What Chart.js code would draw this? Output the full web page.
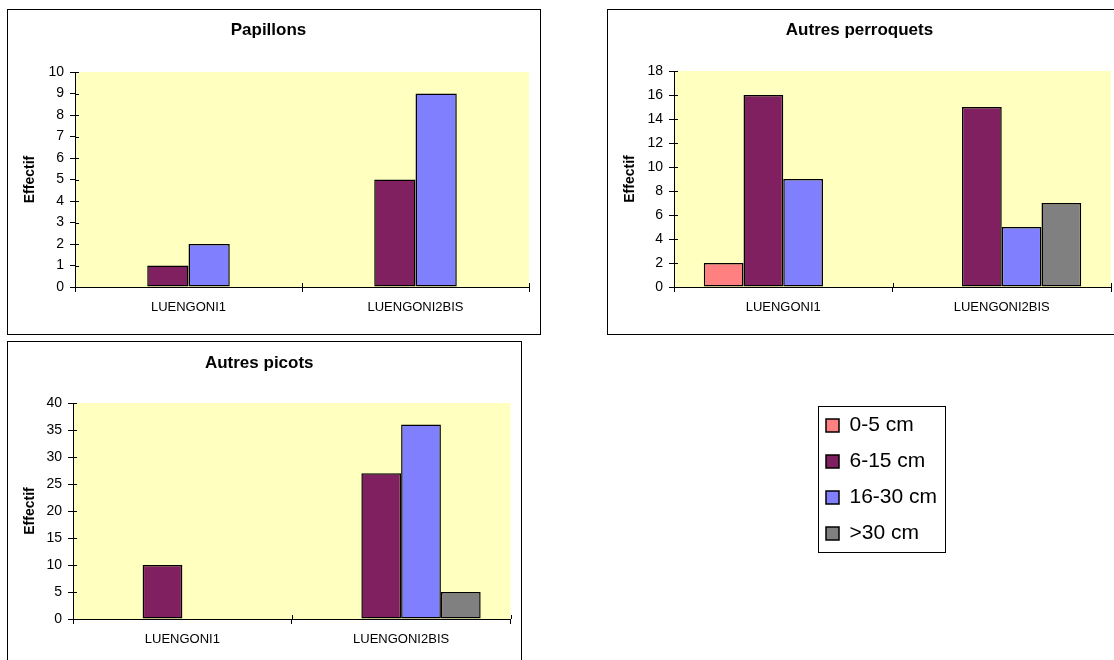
<!DOCTYPE html>
<html>
<head>
<meta charset="utf-8">
<script src="https://cdn.jsdelivr.net/npm/chart.js@4.4.1/dist/chart.umd.min.js"></script>
<style>
  body { margin: 0; background: #fff; width: 1114px; height: 660px; overflow: hidden; position: relative; }
  .box { position: absolute; border: 1px solid #000; box-sizing: border-box; background: #fff; }
  .box canvas { position: absolute; left: 0; top: 0; }
  #legendCanvas { position: absolute; }
</style>
</head>
<body>
<div class="box" style="left:7px;top:9px;width:534px;height:326px;">
  <canvas id="papillons" width="532" height="324"></canvas>
</div>
<div class="box" style="left:607px;top:9px;width:520px;height:326px;">
  <canvas id="perroquets" width="518" height="324"></canvas>
</div>
<div class="box" style="left:7px;top:341px;width:515px;height:330px;">
  <canvas id="picots" width="513" height="328"></canvas>
</div>
<div class="box" style="left:818px;top:406px;width:128px;height:147px;"></div>
<canvas id="legendCanvas" width="360" height="200" style="left:811px;top:400px;"></canvas>

<script>
// stations and size classes
const categories = ["LUENGONI1", "LUENGONI2BIS"];
const sizeClasses = ["0-5 cm", "6-15 cm", "16-30 cm", ">30 cm"];

// one row per size class, one value per station
const papillons = [
  [0, 0],
  [1, 5],
  [2, 9],
  [0, 0],
];
const perroquets = [
  [2, 0],
  [16, 15],
  [9, 5],
  [0, 7],
];
const picots = [
  [0, 0],
  [10, 27],
  [0, 36],
  [0, 5],
];

// y axis: [min, max, step]
const papillonsAxis = [0, 10, 1];
const perroquetsAxis = [0, 18, 2];
const picotsAxis = [0, 40, 5];

const colors = ["#FF8080", "#802060", "#8080FF", "#808080"];

Chart.defaults.font.family = 'Arial, "Liberation Sans", Helvetica, sans-serif';
Chart.defaults.color = "#000";
Chart.defaults.animation = false;

const plotBg = {
  id: "plotBg",
  beforeDraw(chart) {
    const { ctx, chartArea: a } = chart;
    if (!a) return;
    ctx.save();
    ctx.fillStyle = "#FFFFC0";
    ctx.fillRect(a.left, a.top, a.right - a.left, a.bottom - a.top);
    ctx.restore();
  },
};

// excel style ticks cross the axis: draw the inner half
const innerTicks = {
  id: "innerTicks",
  afterDraw(chart) {
    const { ctx, chartArea: a, scales } = chart;
    ctx.save();
    ctx.strokeStyle = "#000";
    ctx.lineWidth = 1;
    ctx.beginPath();
    const ys = scales.y;
    ys.ticks.forEach((t, i) => {
      const py = Math.round(ys.getPixelForTick(i)) + 0.5;
      ctx.moveTo(a.left, py);
      ctx.lineTo(a.left + 4, py);
    });
    const xs = scales.x;
    const half = (xs.getPixelForTick(1) - xs.getPixelForTick(0)) / 2;
    const bounds = [xs.getPixelForTick(0) - half];
    xs.ticks.forEach((t, i) => bounds.push(xs.getPixelForTick(i) + half));
    bounds.forEach((bx) => {
      const px = Math.round(bx) + 0.5;
      ctx.moveTo(px, a.bottom);
      ctx.lineTo(px, a.bottom - 4);
    });
    ctx.stroke();
    ctx.restore();
  },
};

function makeDatasets(values) {
  return sizeClasses.map((label, i) => ({
    label: label,
    data: values ? values[i] : [],
    backgroundColor: colors[i],
    borderColor: "#000",
    borderWidth: 1.5,
    borderSkipped: false,
    barPercentage: 1,
    categoryPercentage: 4 / 5.5,
  }));
}

function makeChart(id, title, values, axis, lay) {
  const ctx = document.getElementById(id).getContext("2d");
  return new Chart(ctx, {
    type: "bar",
    data: { labels: categories, datasets: makeDatasets(values) },
    plugins: [plotBg, innerTicks],
    options: {
      responsive: false,
      devicePixelRatio: 1,
      layout: { padding: { left: 0, top: 0, right: lay.right, bottom: 0 } },
      plugins: {
        legend: { display: false },
        tooltip: { enabled: false },
        title: {
          display: true,
          text: title,
          font: { size: 17, weight: "bold" },
          color: "#000",
          padding: { top: lay.titleTop, bottom: lay.titleBottom },
        },
      },
      scales: {
        x: {
          grid: { offset: true, drawOnChartArea: false, drawTicks: true, tickLength: 5, color: "#000" },
          border: { display: true, color: "#000", width: 1 },
          ticks: { font: { size: 13 }, padding: 8, maxRotation: 0 },
          afterFit: (scale) => { scale.height = lay.xHeight; },
        },
        y: {
          min: axis[0],
          max: axis[1],
          ticks: { stepSize: axis[2], font: { size: 14 }, padding: 6 },
          grid: { drawOnChartArea: false, drawTicks: true, tickLength: 5, color: "#000" },
          border: { display: true, color: "#000", width: 1 },
          title: {
            display: true,
            text: "Effectif",
            font: { size: 14, weight: "bold" },
            padding: { top: 13.5, bottom: 0 },
          },
          afterFit: (scale) => { scale.width = lay.yWidth; },
        },
      },
    },
  });
}

makeChart("papillons", "Papillons", papillons, papillonsAxis,
  { right: 11, titleTop: 10, titleBottom: 31.6, xHeight: 47, yWidth: 67 });
makeChart("perroquets", "Autres perroquets", perroquets, perroquetsAxis,
  { right: 15, titleTop: 10, titleBottom: 30.6, xHeight: 47, yWidth: 66 });
makeChart("picots", "Autres picots", picots, picotsAxis,
  { right: 10.5, titleTop: 10.8, titleBottom: 29.8, xHeight: 51, yWidth: 65 });

// shared legend
new Chart(document.getElementById("legendCanvas").getContext("2d"), {
  type: "bar",
  data: { labels: [], datasets: makeDatasets(null) },
  options: {
    responsive: false,
    devicePixelRatio: 1,
    scales: { x: { display: false }, y: { display: false } },
    plugins: {
      tooltip: { enabled: false },
      legend: {
        position: "left",
        align: "start",
        labels: {
          boxWidth: 13,
          boxHeight: 13,
          padding: 15,
          color: "#000",
          font: { size: 21 },
        },
      },
    },
  },
});
</script>
</body>
</html>
